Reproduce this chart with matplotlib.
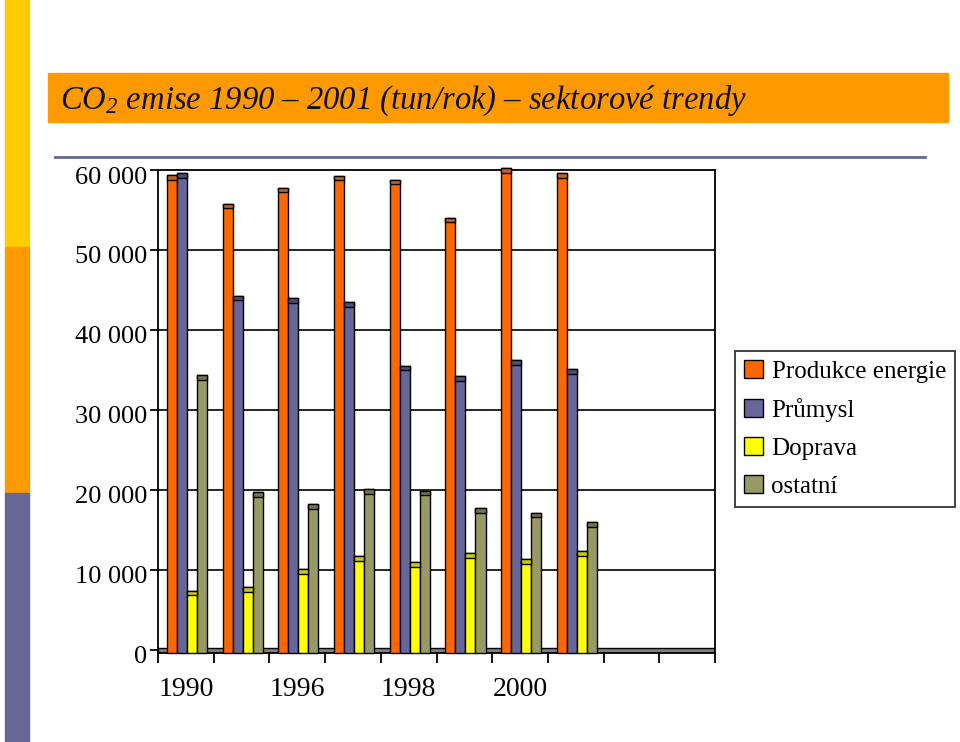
import matplotlib
matplotlib.use("Agg")
import matplotlib.pyplot as plt
from matplotlib.patches import Rectangle, Patch
from matplotlib.transforms import ScaledTranslation
import numpy as np

plt.rcParams['font.family'] = ['Liberation Serif', 'DejaVu Serif']
plt.rcParams['mathtext.fontset'] = 'custom'
plt.rcParams['mathtext.it'] = 'Liberation Serif:italic'
plt.rcParams['mathtext.rm'] = 'Liberation Serif:italic'
plt.rcParams['mathtext.default'] = 'it'

# ---- data ----
series_names = ["Produkce energie", "Průmysl", "Doprava", "ostatní"]
energie = [59400, 55800, 57800, 59300, 58800, 54050, 60200, 59650]
prumysl = [59600, 44300, 43950, 43450, 35550, 34250, 36250, 35100]
doprava = [7400, 7800, 10100, 11700, 11000, 12100, 11300, 12300]
ostatni = [34400, 19700, 18200, 20100, 19900, 17700, 17150, 16000]
n_slots = 10
x_labels = ["1990", "1996", "1998", "2000"]
x_label_slots = [0, 2, 4, 6]
y_ticks = [0, 10000, 20000, 30000, 40000, 50000, 60000]
y_labels = ["0", "10 000", "20 000", "30 000", "40 000", "50 000", "60 000"]

colors = ["#FF6600", "#666699", "#FFFF00", "#999966"]
cap_colors = ["#C3602A", "#4E4E74", "#C8C81E", "#75754F"]

W, H = 960, 742
fig = plt.figure(figsize=(W / 100, H / 100), dpi=100)

def fx(px):
    return px / W

def fy(py):
    return 1 - py / H

# left decorative strip
fig.patches.append(Rectangle((fx(5), fy(247)), fx(24), 247 / H, color="#FFCC00", transform=fig.transFigure))
fig.patches.append(Rectangle((fx(5), fy(493)), fx(24), 246 / H, color="#FF9900", transform=fig.transFigure))
fig.patches.append(Rectangle((fx(5), fy(742)), fx(24), 249 / H, color="#666699", transform=fig.transFigure))

# title banner
fig.patches.append(Rectangle((fx(48), fy(122)), fx(900), 49 / H, color="#FF9900", transform=fig.transFigure))
fig.text(fx(60), fy(109), "CO$_{2}$ emise 1990 – 2001 (tun/rok) – sektorové trendy",
         fontsize=23.5, fontstyle='italic', color="#111111", va='baseline', ha='left')
# line under title
fig.add_artist(plt.Line2D([fx(55), fx(925)], [fy(157), fy(157)], color="#666699", lw=2,
                          transform=fig.transFigure))

# axes
ax_left, ax_right, ax_top, ax_bottom = 158, 715, 170, 653
ax = fig.add_axes([fx(ax_left), fy(ax_bottom), fx(ax_right - ax_left), (ax_bottom - ax_top) / H])
ymin = -400
ax.set_xlim(0, n_slots)
ax.set_ylim(ymin, 60000)

# floor
ax.add_patch(Rectangle((0, -350), n_slots, 600, facecolor="#808080", edgecolor="black", lw=1, zorder=2))

bw = 0.18
start = 0.16
cap = 600
data = [energie, prumysl, doprava, ostatni]
for i, vals in enumerate(data):
    xs = np.arange(len(vals)) + start + i * bw
    v = np.array(vals)
    ax.bar(xs, v - (-350), bottom=-350, width=bw, align='edge', color=colors[i],
           edgecolor="black", lw=1, zorder=3, clip_on=False)
    ax.bar(xs, cap, bottom=v - cap, width=bw, align='edge', color=cap_colors[i],
           edgecolor="black", lw=1, zorder=4, clip_on=False)

# grid
for yv in y_ticks[1:-1]:
    ax.axhline(yv, color="black", lw=1.2, zorder=1)

for s in ax.spines.values():
    s.set_color("black")
    s.set_linewidth(1.3)

ax.set_yticks(y_ticks)
ax.set_yticklabels(y_labels, fontsize=19)
ax.tick_params(axis='y', direction='out', length=6, width=1.3, pad=2)
for lab in ax.get_yticklabels():
    lab.set_transform(lab.get_transform() + ScaledTranslation(0, -5 / 100, fig.dpi_scale_trans))

ax.set_xticks(np.arange(0, n_slots + 1))
ax.set_xticklabels([])
ax.tick_params(axis='x', which='major', direction='out', length=7, width=1.3)
ax.set_xticks(np.array(x_label_slots) + 0.5, minor=True)
ax.set_xticklabels(x_labels, minor=True, fontsize=20)
ax.tick_params(axis='x', which='minor', length=0, pad=17)

# legend
handles = [Patch(facecolor=c, edgecolor="black", lw=1) for c in colors]
leg = fig.legend(handles, series_names, loc='upper left',
                 bbox_to_anchor=(fx(735), fy(351)), bbox_transform=fig.transFigure,
                 fontsize=18, frameon=True, fancybox=False, edgecolor="black",
                 handlelength=0.75, handleheight=0.75, handletextpad=0.35,
                 labelspacing=0.6, borderpad=0.36, borderaxespad=0)
leg.get_frame().set_linewidth(1.3)

fig.savefig("out.png", dpi=100)
